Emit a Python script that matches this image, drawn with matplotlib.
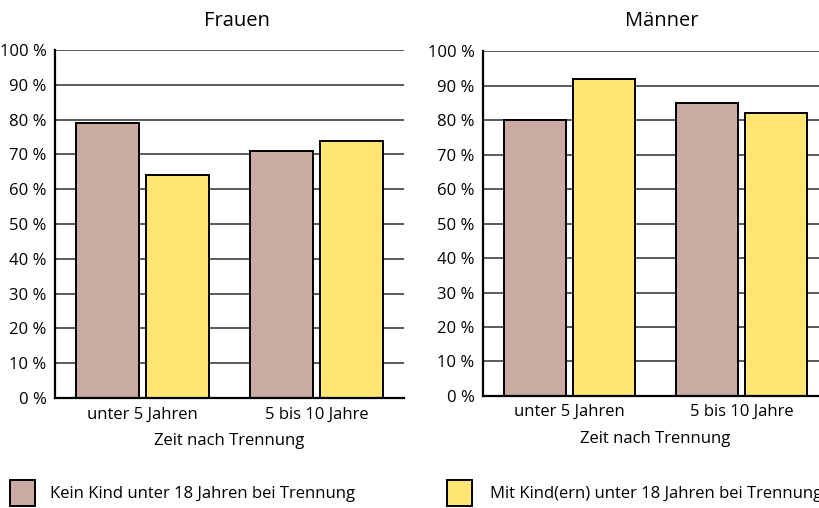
import numpy as np
import matplotlib.pyplot as plt
from matplotlib.patches import Rectangle

plt.rcParams['font.family'] = ['Open Sans', 'DejaVu Sans']

# data
groups = ['unter 5 Jahren', '5 bis 10 Jahre']
series = ['Kein Kind unter 18 Jahren bei Trennung',
          'Mit Kind(ern) unter 18 Jahren bei Trennung']
frauen = [[79, 71], [64, 74]]
maenner = [[80, 85], [92, 82]]
yticks = [0, 10, 20, 30, 40, 50, 60, 70, 80, 90, 100]

col = ['#c9aba3', '#ffe571']
fs = 12

fig = plt.figure(figsize=(8.2, 5.08), dpi=100)
ax1 = fig.add_axes([0.0671, 0.2165, 0.4256, 0.685])
ax2 = fig.add_axes([0.589, 0.2205, 0.4207, 0.679])

x = np.arange(len(groups))
w = 0.36
for ax, vals, title, tx in [(ax1, frauen, 'Frauen', 0.289), (ax2, maenner, 'Männer', 0.807)]:
    for s in range(2):
        ax.bar(x + (s - 0.5) * 0.4, vals[s], w, color=col[s], edgecolor='black',
               linewidth=1.4, zorder=3)
    ax.set_xlim(-0.5, 1.5)
    ax.set_ylim(0, 100)
    ax.set_yticks(yticks)
    ax.set_yticklabels([f'{t} %' for t in yticks], fontsize=fs)
    ax.set_xticks(x)
    ax.set_xticklabels(groups, fontsize=fs)
    ax.tick_params(length=0, pad=6)
    ax.grid(axis='y', color='#5a5a5a', linewidth=1.4, zorder=0)
    for sp in ['top', 'right']:
        ax.spines[sp].set_visible(False)
    for sp in ['left', 'bottom']:
        ax.spines[sp].set_linewidth(1.6)
        ax.spines[sp].set_zorder(4)
    ax.set_xlabel('Zeit nach Trennung', fontsize=fs, labelpad=8)
    fig.text(tx, 0.958, title, fontsize=14.5, ha='center', va='center')

# legend
for s, (lx, tx) in enumerate([(10, 50), (447, 490)]):
    fig.patches.append(Rectangle((lx / 820, 1 - 506 / 508), 25 / 820, 26 / 508,
                                 transform=fig.transFigure, facecolor=col[s],
                                 edgecolor='black', linewidth=1.4))
    fig.text(tx / 820, 1 - 494 / 508, series[s], fontsize=fs, ha='left', va='center')

plt.savefig('out.png', dpi=100)
